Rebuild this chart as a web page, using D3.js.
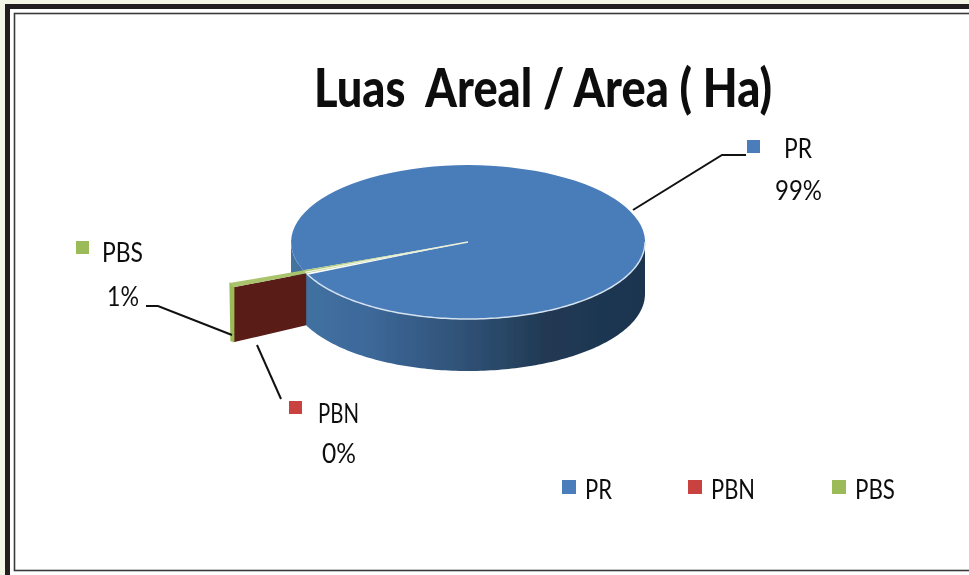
<!DOCTYPE html>
<html><head><meta charset="utf-8">
<script src="https://cdn.jsdelivr.net/npm/d3@7"></script>
<style>html,body{margin:0;padding:0;background:#fff;overflow:hidden}svg{display:block}text{font-family:"Lato","Open Sans",sans-serif;fill:#111}</style>
</head><body><svg id="c" width="969" height="575"></svg>
<script>
const categories=["PR","PBN","PBS"];
const seriesValues=[99,0.2,0.8];
const percentLabels=["99%","0%","1%"];
const colors=["#4a7dba","#c9423f","#9bbb59"];
const titleText="Luas  Areal / Area ( Ha)";

const svg=d3.select("#c");
const W=969,H=575,cx=468,cy=242,rx=177,ry=77,depth=52,explodeR=1.45;
const TAU=2*Math.PI, start=248.4/360*TAU;
const arcs=d3.pie().sort(null).startAngle(start).endAngle(start+TAU)(seriesValues);
const X=d3.scaleLinear().domain([-1,1]).range([cx-rx,cx+rx]);
const Y=d3.scaleLinear().domain([-1,1]).range([cy-ry,cy+ry]);
const px=(a,r=1)=>[X(Math.sin(a)*r),Y(-Math.cos(a)*r)];

const defs=svg.append("defs");
defs.append("filter").attr("id","soft").append("feGaussianBlur").attr("stdDeviation",0.55);
defs.append("filter").attr("id","softText").append("feGaussianBlur").attr("stdDeviation",0.4);
const g=defs.append("linearGradient").attr("id","wall").attr("gradientUnits","userSpaceOnUse")
 .attr("x1",cx-rx).attr("x2",cx+rx).attr("y1",0).attr("y2",0);
[[0,"#44749f"],[0.05,"#41709f"],[0.2,"#3d6a9b"],[0.42,"#33577f"],[0.6,"#294766"],[0.72,"#203853"],[1,"#1e3550"]]
 .forEach(d=>g.append("stop").attr("offset",d[0]).attr("stop-color",d[1]));

// page & frames
svg.append("rect").attr("width",W).attr("height",H).attr("fill","#f4f6e6");
svg.append("rect").attr("x",5).attr("y",4).attr("width",W).attr("height",H).attr("fill","#231f20");
svg.append("rect").attr("x",10).attr("y",9).attr("width",W).attr("height",H).attr("fill","#fff");
svg.append("rect").attr("x",14.5).attr("y",13.5).attr("width",W).attr("height",557).attr("fill","#fff").attr("stroke","#3a3a3a").attr("stroke-width",1.6);

const chart=svg.append("g").attr("filter","url(#soft)");

// side wall of the large slice
const wallAngles=d3.range(Math.PI/2,1.5*Math.PI+0.001,0.02);
const wallPts=wallAngles.map(a=>px(a)).concat(wallAngles.slice().reverse().map(a=>{const p=px(a);return [p[0],p[1]+depth];}));
chart.append("path").attr("d",d3.line()(wallPts)+"Z").attr("fill","url(#wall)");

// top of pie
const arcGen=d3.arc().innerRadius(0).outerRadius(1);
chart.append("path").attr("transform",`translate(${cx},${cy}) scale(${rx},${ry})`)
 .attr("d",arcGen(arcs[0])).attr("fill",colors[0]);
const rimAngles=d3.range(Math.PI/2,start+0.001,0.02);
chart.append("path").attr("d",d3.line()(rimAngles.map(a=>px(a)))).attr("fill","none")
 .attr("stroke","#d5e2f0").attr("stroke-width",1.5);

// exploded thin slices: cut face, outer wall and top wedge
const aCut=arcs[2].startAngle+0.01, pIn=px(aCut,1.0), pOut=px(aCut,explodeR);
chart.append("path").attr("d",d3.line()([pIn,pOut,[pOut[0],pOut[1]+depth+3],[pIn[0],pIn[1]+depth]])+"Z").attr("fill","#5a1a16");
chart.append("path").attr("d",d3.line()([[pOut[0]-4,pOut[1]-5],[pOut[0]+1,pOut[1]-1],[pOut[0]+1,pOut[1]+depth+3],[pOut[0]-3,pOut[1]+depth+2]])+"Z").attr("fill","#9bbb59");
chart.append("path").attr("d",d3.line()([[cx,cy],px(arcs[2].endAngle,explodeR),pOut])+"Z").attr("fill","#a9c46c");
chart.append("path").attr("d",d3.line()([[cx,cy],px(aCut+0.014,1)])).attr("stroke","#e9f1da").attr("stroke-width",1.7).attr("fill","none");

// leaders
const leaders=[[[633,210],[722,155],[746,155]],[[257,345],[281,399]],[[232,335],[158,306],[146,306]]];
leaders.forEach(l=>svg.append("path").attr("d",d3.line()(l)).attr("fill","none").attr("stroke","#111").attr("stroke-width",2));

const txt=svg.append("g").attr("filter","url(#softText)");
// data labels
const labelPos=[{sx:747,sy:140,nx:784,ny:158,px:798.5,py:200,w:47},
 {sx:289,sy:401,nx:318,ny:423,px:339,py:463,w:34},
 {sx:76,sy:241,nx:102,ny:262,px:123,py:306,w:32}];
categories.forEach((c,i)=>{
 const p=labelPos[i];
 svg.append("rect").attr("x",p.sx).attr("y",p.sy).attr("width",13).attr("height",13).attr("fill",colors[i]);
 txt.append("text").attr("x",p.nx).attr("y",p.ny).attr("font-size",27).attr("textLength",c.length>2?41:28).attr("lengthAdjust","spacingAndGlyphs").text(c);
 txt.append("text").attr("x",p.px-p.w/2).attr("y",p.py).attr("font-size",27).attr("textLength",p.w).attr("lengthAdjust","spacingAndGlyphs").text(percentLabels[i]);
});

// legend
const legendX=[562,688,832];
categories.forEach((c,i)=>{
 svg.append("rect").attr("x",legendX[i]).attr("y",480).attr("width",14).attr("height",14).attr("fill",colors[i]);
 txt.append("text").attr("x",legendX[i]+23).attr("y",499).attr("font-size",27).attr("textLength",[27,44,40][i]).attr("lengthAdjust","spacingAndGlyphs").text(c);
});

// title
txt.append("text").attr("x",314).attr("y",107).attr("font-size",53).attr("font-weight",900)
 .attr("textLength",458).attr("lengthAdjust","spacingAndGlyphs").style("white-space","pre").text(titleText);
</script></body></html>
